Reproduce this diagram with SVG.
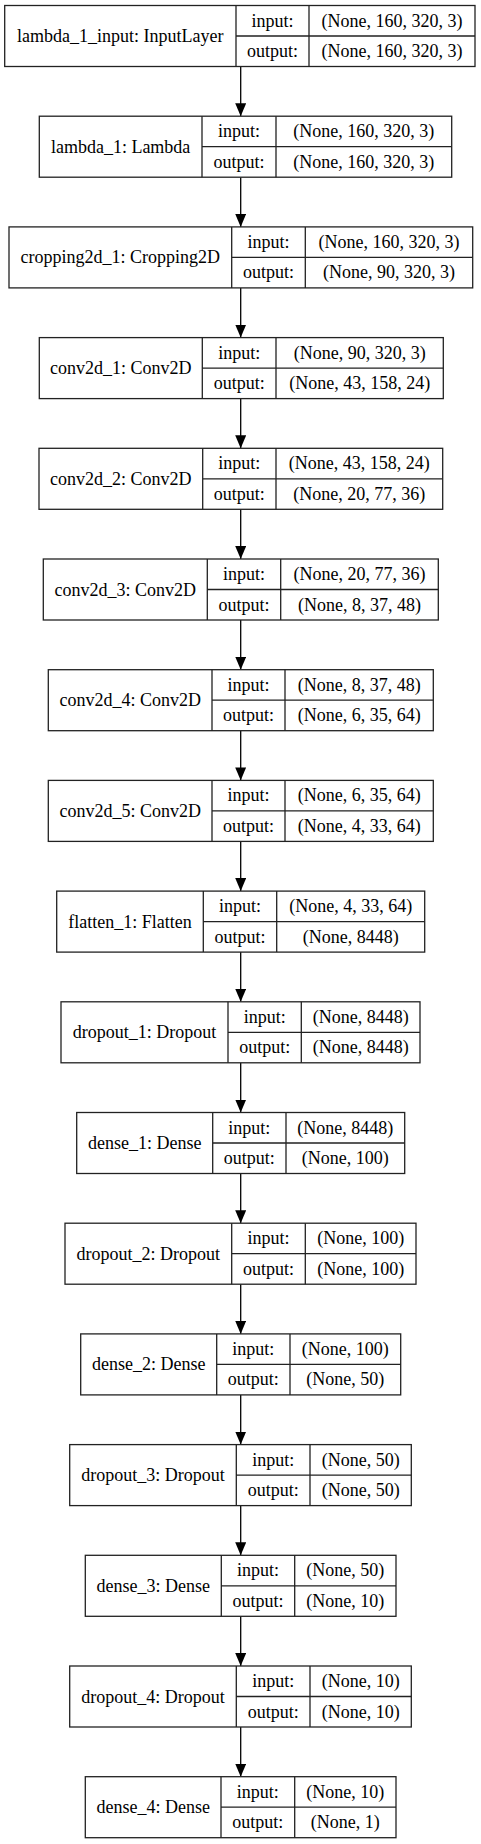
<svg xmlns="http://www.w3.org/2000/svg" width="481" height="1844" viewBox="0 0 481 1844">
<style>
.bg{fill:#fff}
.box{fill:#fff;stroke:#222;stroke-width:1.3}
.ln{stroke:#222;stroke-width:1.3;fill:none}
text{font-family:"Liberation Serif","Times New Roman",serif;font-size:18px;fill:#000;text-anchor:middle}
.edge{stroke:#000;stroke-width:1.3;fill:none;marker-end:url(#ah)}
</style>
<defs>
<marker id="ah" markerUnits="userSpaceOnUse" markerWidth="13" markerHeight="11" refX="13" refY="5.5" orient="auto">
<path d="M0,0 L13,5.5 L0,11 z" fill="#000"/>
</marker>
</defs>
<rect class="bg" x="0" y="0" width="481" height="1844"/>
<g id="connectors">
<line class="edge" x1="240.7" y1="66.5" x2="240.7" y2="116.2"/>
<line class="edge" x1="240.7" y1="177.2" x2="240.7" y2="226.9"/>
<line class="edge" x1="240.7" y1="287.9" x2="240.7" y2="337.6"/>
<line class="edge" x1="240.7" y1="398.6" x2="240.7" y2="448.3"/>
<line class="edge" x1="240.7" y1="509.3" x2="240.7" y2="559"/>
<line class="edge" x1="240.7" y1="620" x2="240.7" y2="669.7"/>
<line class="edge" x1="240.7" y1="730.7" x2="240.7" y2="780.4"/>
<line class="edge" x1="240.7" y1="841.4" x2="240.7" y2="891.1"/>
<line class="edge" x1="240.7" y1="952.1" x2="240.7" y2="1001.8"/>
<line class="edge" x1="240.7" y1="1062.8" x2="240.7" y2="1112.5"/>
<line class="edge" x1="240.7" y1="1173.5" x2="240.7" y2="1223.2"/>
<line class="edge" x1="240.7" y1="1284.2" x2="240.7" y2="1333.9"/>
<line class="edge" x1="240.7" y1="1394.9" x2="240.7" y2="1444.6"/>
<line class="edge" x1="240.7" y1="1505.6" x2="240.7" y2="1555.3"/>
<line class="edge" x1="240.7" y1="1616.3" x2="240.7" y2="1666"/>
<line class="edge" x1="240.7" y1="1727" x2="240.7" y2="1776.7"/>
</g>
<g id="lambda_1_input" transform="translate(0,5.5)">
<rect class="box" x="4.7" y="0" width="470.3" height="61"/>
<path class="ln" d="M236,0V61M309,0V61M236,30.5H475"/>
<text x="120.35" y="36.5">lambda_1_input: InputLayer</text>
<text x="272.5" y="21">input:</text><text x="272.5" y="51.5">output:</text>
<text x="392" y="21">(None, 160, 320, 3)</text><text x="392" y="51.5">(None, 160, 320, 3)</text>
</g>
<g id="lambda_1" transform="translate(0,116.2)">
<rect class="box" x="39.3" y="0" width="412.4" height="61"/>
<path class="ln" d="M202,0V61M276,0V61M202,30.5H451.7"/>
<text x="120.65" y="36.5">lambda_1: Lambda</text>
<text x="239" y="21">input:</text><text x="239" y="51.5">output:</text>
<text x="363.85" y="21">(None, 160, 320, 3)</text><text x="363.85" y="51.5">(None, 160, 320, 3)</text>
</g>
<g id="cropping2d_1" transform="translate(0,226.9)">
<rect class="box" x="9" y="0" width="463.7" height="61"/>
<path class="ln" d="M231.7,0V61M305.3,0V61M231.7,30.5H472.7"/>
<text x="120.35" y="36.5">cropping2d_1: Cropping2D</text>
<text x="268.5" y="21">input:</text><text x="268.5" y="51.5">output:</text>
<text x="389" y="21">(None, 160, 320, 3)</text><text x="389" y="51.5">(None, 90, 320, 3)</text>
</g>
<g id="conv2d_1" transform="translate(0,337.6)">
<rect class="box" x="39.3" y="0" width="404" height="61"/>
<path class="ln" d="M202.3,0V61M276,0V61M202.3,30.5H443.3"/>
<text x="120.8" y="36.5">conv2d_1: Conv2D</text>
<text x="239.15" y="21">input:</text><text x="239.15" y="51.5">output:</text>
<text x="359.65" y="21">(None, 90, 320, 3)</text><text x="359.65" y="51.5">(None, 43, 158, 24)</text>
</g>
<g id="conv2d_2" transform="translate(0,448.3)">
<rect class="box" x="39" y="0" width="403.7" height="61"/>
<path class="ln" d="M202.7,0V61M276,0V61M202.7,30.5H442.7"/>
<text x="120.85" y="36.5">conv2d_2: Conv2D</text>
<text x="239.35" y="21">input:</text><text x="239.35" y="51.5">output:</text>
<text x="359.35" y="21">(None, 43, 158, 24)</text><text x="359.35" y="51.5">(None, 20, 77, 36)</text>
</g>
<g id="conv2d_3" transform="translate(0,559)">
<rect class="box" x="43.3" y="0" width="395" height="61"/>
<path class="ln" d="M207.3,0V61M280.7,0V61M207.3,30.5H438.3"/>
<text x="125.3" y="36.5">conv2d_3: Conv2D</text>
<text x="244" y="21">input:</text><text x="244" y="51.5">output:</text>
<text x="359.5" y="21">(None, 20, 77, 36)</text><text x="359.5" y="51.5">(None, 8, 37, 48)</text>
</g>
<g id="conv2d_4" transform="translate(0,669.7)">
<rect class="box" x="48.3" y="0" width="385" height="61"/>
<path class="ln" d="M212,0V61M285,0V61M212,30.5H433.3"/>
<text x="130.15" y="36.5">conv2d_4: Conv2D</text>
<text x="248.5" y="21">input:</text><text x="248.5" y="51.5">output:</text>
<text x="359.15" y="21">(None, 8, 37, 48)</text><text x="359.15" y="51.5">(None, 6, 35, 64)</text>
</g>
<g id="conv2d_5" transform="translate(0,780.4)">
<rect class="box" x="48.3" y="0" width="385" height="61"/>
<path class="ln" d="M212,0V61M285,0V61M212,30.5H433.3"/>
<text x="130.15" y="36.5">conv2d_5: Conv2D</text>
<text x="248.5" y="21">input:</text><text x="248.5" y="51.5">output:</text>
<text x="359.15" y="21">(None, 6, 35, 64)</text><text x="359.15" y="51.5">(None, 4, 33, 64)</text>
</g>
<g id="flatten_1" transform="translate(0,891.1)">
<rect class="box" x="56.7" y="0" width="368" height="61"/>
<path class="ln" d="M203.3,0V61M276.7,0V61M203.3,30.5H424.7"/>
<text x="130" y="36.5">flatten_1: Flatten</text>
<text x="240" y="21">input:</text><text x="240" y="51.5">output:</text>
<text x="350.7" y="21">(None, 4, 33, 64)</text><text x="350.7" y="51.5">(None, 8448)</text>
</g>
<g id="dropout_1" transform="translate(0,1001.8)">
<rect class="box" x="61" y="0" width="359" height="61"/>
<path class="ln" d="M228,0V61M301.3,0V61M228,30.5H420"/>
<text x="144.5" y="36.5">dropout_1: Dropout</text>
<text x="264.65" y="21">input:</text><text x="264.65" y="51.5">output:</text>
<text x="360.65" y="21">(None, 8448)</text><text x="360.65" y="51.5">(None, 8448)</text>
</g>
<g id="dense_1" transform="translate(0,1112.5)">
<rect class="box" x="76.7" y="0" width="328" height="61"/>
<path class="ln" d="M212.7,0V61M286,0V61M212.7,30.5H404.7"/>
<text x="144.7" y="36.5">dense_1: Dense</text>
<text x="249.35" y="21">input:</text><text x="249.35" y="51.5">output:</text>
<text x="345.35" y="21">(None, 8448)</text><text x="345.35" y="51.5">(None, 100)</text>
</g>
<g id="dropout_2" transform="translate(0,1223.2)">
<rect class="box" x="65" y="0" width="351" height="61"/>
<path class="ln" d="M231.7,0V61M305.3,0V61M231.7,30.5H416"/>
<text x="148.35" y="36.5">dropout_2: Dropout</text>
<text x="268.5" y="21">input:</text><text x="268.5" y="51.5">output:</text>
<text x="360.65" y="21">(None, 100)</text><text x="360.65" y="51.5">(None, 100)</text>
</g>
<g id="dense_2" transform="translate(0,1333.9)">
<rect class="box" x="80.7" y="0" width="320" height="61"/>
<path class="ln" d="M216.7,0V61M290,0V61M216.7,30.5H400.7"/>
<text x="148.7" y="36.5">dense_2: Dense</text>
<text x="253.35" y="21">input:</text><text x="253.35" y="51.5">output:</text>
<text x="345.35" y="21">(None, 100)</text><text x="345.35" y="51.5">(None, 50)</text>
</g>
<g id="dropout_3" transform="translate(0,1444.6)">
<rect class="box" x="69.7" y="0" width="341.6" height="61"/>
<path class="ln" d="M236.3,0V61M310,0V61M236.3,30.5H411.3"/>
<text x="153" y="36.5">dropout_3: Dropout</text>
<text x="273.15" y="21">input:</text><text x="273.15" y="51.5">output:</text>
<text x="360.65" y="21">(None, 50)</text><text x="360.65" y="51.5">(None, 50)</text>
</g>
<g id="dense_3" transform="translate(0,1555.3)">
<rect class="box" x="85.3" y="0" width="310.7" height="61"/>
<path class="ln" d="M221.3,0V61M294.7,0V61M221.3,30.5H396"/>
<text x="153.3" y="36.5">dense_3: Dense</text>
<text x="258" y="21">input:</text><text x="258" y="51.5">output:</text>
<text x="345.35" y="21">(None, 50)</text><text x="345.35" y="51.5">(None, 10)</text>
</g>
<g id="dropout_4" transform="translate(0,1666)">
<rect class="box" x="69.7" y="0" width="341.6" height="61"/>
<path class="ln" d="M236.3,0V61M310,0V61M236.3,30.5H411.3"/>
<text x="153" y="36.5">dropout_4: Dropout</text>
<text x="273.15" y="21">input:</text><text x="273.15" y="51.5">output:</text>
<text x="360.65" y="21">(None, 10)</text><text x="360.65" y="51.5">(None, 10)</text>
</g>
<g id="dense_4" transform="translate(0,1776.7)">
<rect class="box" x="85.3" y="0" width="310.7" height="61"/>
<path class="ln" d="M221,0V61M294.7,0V61M221,30.5H396"/>
<text x="153.15" y="36.5">dense_4: Dense</text>
<text x="257.85" y="21">input:</text><text x="257.85" y="51.5">output:</text>
<text x="345.35" y="21">(None, 10)</text><text x="345.35" y="51.5">(None, 1)</text>
</g>
</svg>
